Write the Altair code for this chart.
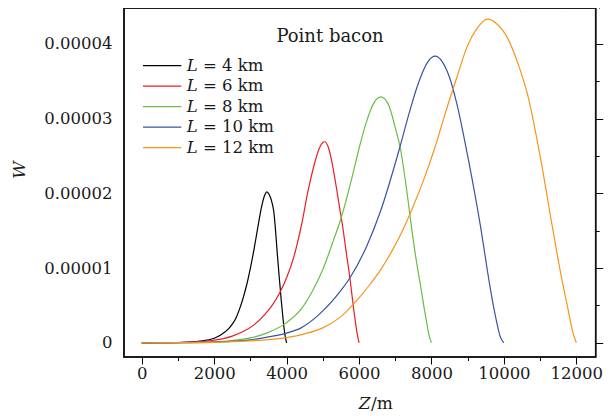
import altair as alt
import pandas as pd

# ---------------- data ----------------
SERIES = ["4", "6", "8", "10", "12"]
LEGEND_REST = ["= 4 km", "= 6 km", "= 8 km", "= 10 km", "= 12 km"]
COLORS = ["#000000", "#ed1c24", "#6abd45", "#3953a4", "#f7941d"]

# W values are given in units of 1e-5
z_L4 = [0, 500, 1000, 1500, 1800, 2000, 2200, 2400, 2500, 2600, 2700, 2800, 2900, 3000,
        3100, 3200, 3300, 3400, 3450, 3500, 3550, 3600, 3650, 3700, 3750, 3800, 3850,
        3900, 3950, 4000]
w_L4 = [0, 0.0005, 0.003, 0.015, 0.035, 0.06, 0.11, 0.19, 0.25, 0.33, 0.45, 0.6, 0.78, 1.0,
        1.25, 1.53, 1.8, 1.98, 2.02, 2.0, 1.95, 1.87, 1.74, 1.47, 1.15, 0.86, 0.58,
        0.33, 0.12, 0.0]

z_L6 = [0, 500, 1000, 1500, 2000, 2500, 2800, 3100, 3400, 3600, 3800, 4000, 4200, 4400,
        4600, 4800, 4900, 5000, 5050, 5150, 5250, 5350, 5450, 5550, 5650, 5750, 5850, 5950,
        6000]
w_L6 = [0, 0.001, 0.004, 0.013, 0.035, 0.09, 0.15, 0.24, 0.38, 0.5, 0.66, 0.87, 1.15, 1.55,
        2.05, 2.45, 2.6, 2.68, 2.69, 2.62, 2.42, 2.15, 1.85, 1.55, 1.2, 0.86, 0.46, 0.12,
        0.0]

z_L8 = [0, 1000, 2000, 2500, 3000, 3500, 4000, 4400, 4700, 5000, 5300, 5500, 5800, 6000,
        6200, 6400, 6600, 6800, 7000, 7150, 7300, 7400, 7550, 7700, 7850, 7950, 8000]
w_L8 = [0, 0.002, 0.012, 0.03, 0.065, 0.14, 0.27, 0.45, 0.68, 0.98, 1.38, 1.66, 2.2, 2.6,
        2.95, 3.2, 3.29, 3.2, 2.88, 2.58, 2.1, 1.73, 1.2, 0.76, 0.32, 0.07, 0.0]

z_L10 = [0, 1000, 2000, 3000, 3500, 4000, 4400, 4900, 5500, 5750, 6200, 6600, 7100, 7400,
         7600, 7900, 8100, 8300, 8500, 8700, 9000, 9350, 9600, 9700, 9800, 9900, 10000]
w_L10 = [0, 0.002, 0.01, 0.04, 0.08, 0.13, 0.2, 0.38, 0.7, 0.87, 1.28, 1.77, 2.57, 3.1,
         3.42, 3.76, 3.835, 3.76, 3.55, 3.2, 2.5, 1.57, 0.8, 0.52, 0.28, 0.08, 0.0]

z_L12 = [0, 1000, 2000, 3000, 3500, 4000, 4500, 5000, 5500, 6000, 6300, 6600, 6900,
         7200, 7500, 7800, 8100, 8400, 8700, 9000, 9250, 9550, 9800, 10100, 10400, 10650,
         11000, 11350, 11600, 11750, 11900, 12000]
w_L12 = [0, 0.001, 0.006, 0.025, 0.042, 0.07, 0.12, 0.2, 0.35, 0.6, 0.78, 0.98, 1.22,
         1.5, 1.83, 2.2, 2.62, 3.1, 3.55, 3.98, 4.2, 4.33, 4.27, 4.08, 3.72, 3.33,
         2.5, 1.52, 0.85, 0.5, 0.15, 0.0]

X_MAJOR = [0, 2000, 4000, 6000, 8000, 10000, 12000]
X_MINOR = [1000, 3000, 5000, 7000, 9000, 11000]
Y_MAJOR = [0, 0.00001, 0.00002, 0.00003, 0.00004]
Y_MINOR = [0.000005, 0.000015, 0.000025, 0.000035]

# ---------------- build table ----------------
rows = []
for name, zs, ws in [("4", z_L4, w_L4), ("6", z_L6, w_L6), ("8", z_L8, w_L8),
                     ("10", z_L10, w_L10), ("12", z_L12, w_L12)]:
    for i, (z, w) in enumerate(zip(zs, ws)):
        rows.append({"series": name, "Z": z, "W": w * 1e-5, "i": i})
df = pd.DataFrame(rows)
leg = pd.DataFrame({"series": SERIES, "rest": LEGEND_REST})

W_PX, H_PX = 471.7, 349
FONT = "DejaVu Serif"
TXT = "#1a1a1a"
xscale = alt.Scale(domain=[-490, 12535], nice=False, zero=False)
yscale = alt.Scale(domain=[-0.0000019, 0.0000448], nice=False, zero=False)
cscale = alt.Scale(domain=SERIES, range=COLORS)

lab_x = alt.Axis(values=X_MAJOR, format="d", ticks=False, tickSize=0, domain=False, grid=False,
                 labelFont=FONT, labelFontSize=16.5, labelColor=TXT, labelPadding=9,
                 title="", orient="bottom")
lab_y = alt.Axis(values=Y_MAJOR, labelExpr="datum.value == 0 ? '0' : format(datum.value, '.5f')",
                 ticks=False, tickSize=0, domain=False, grid=False, labelFont=FONT,
                 labelFontSize=16.5, labelColor=TXT, labelPadding=12, title="",
                 orient="left")

lines = alt.Chart(df).mark_line(strokeWidth=1.2, interpolate="monotone").encode(
    x=alt.X("Z:Q", scale=xscale, axis=lab_x),
    y=alt.Y("W:Q", scale=yscale, axis=lab_y),
    color=alt.Color("series:N", scale=cscale, legend=None),
    detail="series:N",
    order="i:Q",
)


def tick_layer(xorient, xpos, yorient, ypos, xvals, yvals, size):
    common = dict(labels=False, grid=False, tickSize=size, tickColor="#000", tickWidth=1,
                  title="", domain=False)
    ax = alt.Axis(orient=xorient, position=xpos, values=xvals, **common)
    ay = alt.Axis(orient=yorient, position=ypos, values=yvals, **common)
    return alt.Chart(df).mark_point(opacity=0, size=1).encode(
        x=alt.X("Z:Q", scale=xscale, axis=ax),
        y=alt.Y("W:Q", scale=yscale, axis=ay),
    )


t1 = tick_layer("top", H_PX, "right", 0, X_MAJOR, Y_MAJOR, 7)
t2 = tick_layer("top", H_PX, "right", 0, X_MINOR, Y_MINOR, 3.5)
t3 = tick_layer("bottom", 0, "left", W_PX, X_MAJOR, Y_MAJOR, 7)
t4 = tick_layer("bottom", 0, "left", W_PX, X_MINOR, Y_MINOR, 3.5)

txt = pd.DataFrame({"t": ["Point bacon"]})

# plot frame (box around the plotting area)
frame = alt.Chart(txt).mark_rect(filled=False, stroke="#111111", strokeWidth=1.5).encode(
    x=alt.value(0), x2=alt.value(W_PX), y=alt.value(0), y2=alt.value(H_PX))

yleg = alt.Y("series:N", sort=SERIES,
             scale=alt.Scale(type="point", range=[57.7, 139.7], padding=0), axis=None)
leg_rule = alt.Chart(leg).mark_rule(strokeWidth=1.3).encode(
    x=alt.value(19), x2=alt.value(57.3), y=yleg,
    color=alt.Color("series:N", scale=cscale, legend=None),
)
leg_L = alt.Chart(leg).mark_text(align="left", baseline="middle", font=FONT,
                                 fontStyle="italic", fontSize=16.5, color=TXT).encode(
    x=alt.value(62.7), y=yleg, text=alt.value("L"))
leg_rest = alt.Chart(leg).mark_text(align="left", baseline="middle", font=FONT,
                                    fontSize=16.5, color=TXT).encode(
    x=alt.value(79), y=yleg, text="rest:N")

title_in = alt.Chart(txt).mark_text(align="center", baseline="alphabetic", font=FONT,
                                    fontSize=18, color=TXT).encode(
    x=alt.value(206), y=alt.value(34.3), text="t:N")
z_lab = alt.Chart(txt).mark_text(align="right", baseline="alphabetic", font=FONT,
                                 fontStyle="italic", fontSize=17, color=TXT).encode(
    x=alt.value(246.5), y=alt.value(401), text=alt.value("Z"))
m_lab = alt.Chart(txt).mark_text(align="left", baseline="alphabetic", font=FONT,
                                 fontSize=17, color=TXT).encode(
    x=alt.value(247), y=alt.value(401), text=alt.value("/m"))
w_lab = alt.Chart(txt).mark_text(align="center", baseline="middle", font=FONT,
                                 fontStyle="italic", fontSize=17, angle=270,
                                 color=TXT).encode(
    x=alt.value(-103.5), y=alt.value(162), text=alt.value("W"))

chart = alt.layer(
    frame, lines, t1, t2, t3, t4, leg_rule, leg_L, leg_rest, title_in, z_lab, m_lab, w_lab
).resolve_scale(y="independent").resolve_axis(x="independent", y="independent").properties(
    width=W_PX, height=H_PX,
    autosize=alt.AutoSizeParams(type="none"),
    padding={"left": 116, "top": 0, "right": 12, "bottom": 58},
).configure_view(stroke="#111111", strokeWidth=1.5)

chart.save("out.html", embed_options={"renderer": "svg", "actions": False})
